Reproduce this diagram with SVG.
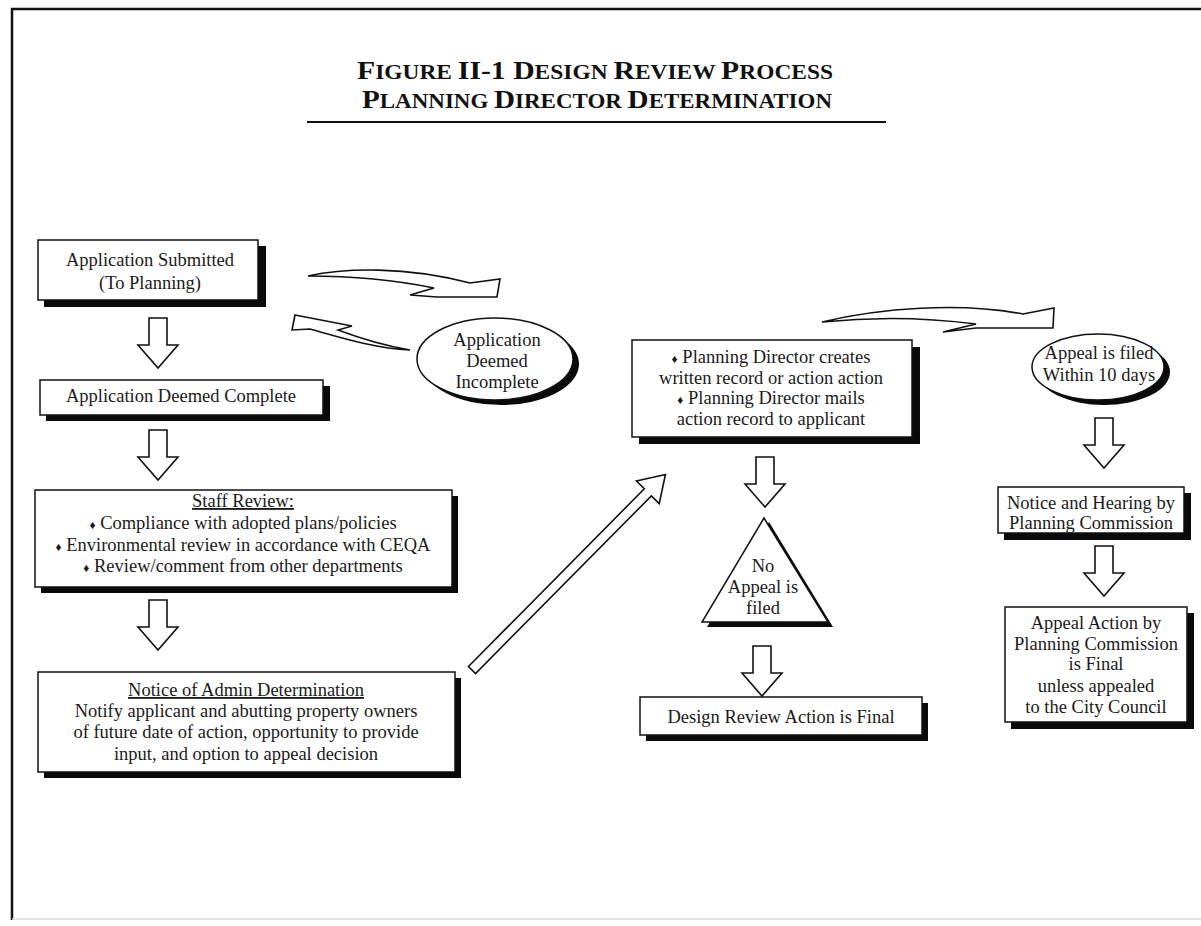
<svg xmlns="http://www.w3.org/2000/svg" width="1201" height="926" viewBox="0 0 1201 926">
<defs>
<style>
.t{font-family:"Liberation Serif","Times New Roman",serif;font-size:18.5px;fill:#1a1a1a;text-anchor:middle}
.box{fill:#fff;stroke:#111;stroke-width:1.5}
.sh{fill:#0a0a0a}
.arr{fill:#fff;stroke:#111;stroke-width:1.6;stroke-linejoin:miter}
.ttl{font-family:"Liberation Serif","Times New Roman",serif;font-weight:bold;fill:#111;text-anchor:middle}
.dm{font-size:12px}
</style>
<path id="down" d="M-9,0 H9 V27 H20 L0,50 L-20,27 H-9 Z"/>
</defs>
<rect width="1201" height="926" fill="#fff"/>
<path d="M1201,9 H12 V920" fill="none" stroke="#111" stroke-width="2.5"/>
<line x1="12" y1="919" x2="1201" y2="919" stroke="#ddd" stroke-width="1.5"/>

<g id="title">
<text class="ttl" x="595" y="79" textLength="476" lengthAdjust="spacingAndGlyphs"><tspan font-size="26">F</tspan><tspan font-size="20.5">IGURE </tspan><tspan font-size="26">II-1 D</tspan><tspan font-size="20.5">ESIGN </tspan><tspan font-size="26">R</tspan><tspan font-size="20.5">EVIEW </tspan><tspan font-size="26">P</tspan><tspan font-size="20.5">ROCESS</tspan></text>
<text class="ttl" x="597" y="108" textLength="470" lengthAdjust="spacingAndGlyphs"><tspan font-size="26">P</tspan><tspan font-size="20.5">LANNING </tspan><tspan font-size="26">D</tspan><tspan font-size="20.5">IRECTOR </tspan><tspan font-size="26">D</tspan><tspan font-size="20.5">ETERMINATION</tspan></text>
<line x1="307" y1="122" x2="886" y2="122" stroke="#111" stroke-width="2"/>
</g>

<g id="connectors">
<use href="#down" class="arr" x="158" y="318"/>
<use href="#down" class="arr" x="158" y="430"/>
<use href="#down" class="arr" x="158" y="600"/>
<use href="#down" class="arr" x="765" y="457"/>
<use href="#down" class="arr" x="762" y="646"/>
<use href="#down" class="arr" x="1104" y="418"/>
<use href="#down" class="arr" x="1104" y="546"/>
<g transform="translate(472,670) rotate(-45.3)">
<polygon class="arr" points="0,-5 250,-5 250,-16 275,0 250,16 250,5 0,5"/>
</g>
<path class="arr" d="M308,276 C345,268 405,266 470,283 L500,279 L497,297 L437,297 L410,295 L434,288 C400,281 360,276 308,276 Z"/>
<path class="arr" d="M295,315 L352,326 L338,330 C362,339 386,346 410,350 C372,348 336,336 310,329 L292,330 Z"/>
<path class="arr" d="M822,322 C880,308 960,302 1023,314 L1054,308 L1053,328 L976,328 L943,332 L976,324 C930,318 880,316 822,322 Z"/>
</g>

<g id="n-submitted">
<rect class="sh" x="44" y="246" width="222" height="61"/>
<rect class="box" x="38" y="240" width="220" height="60"/>
<text class="t" x="150" y="266">Application Submitted</text>
<text class="t" x="150" y="289">(To Planning)</text>
</g>

<g id="n-complete">
<rect class="sh" x="46" y="386" width="284" height="35"/>
<rect class="box" x="40" y="380" width="283" height="35"/>
<text class="t" x="181" y="402">Application Deemed Complete</text>
</g>

<g id="n-incomplete">
<ellipse class="sh" cx="501" cy="364" rx="78" ry="41"/>
<ellipse class="box" cx="495" cy="359" rx="78" ry="41"/>
<text class="t" x="497" y="346">Application</text>
<text class="t" x="497" y="367">Deemed</text>
<text class="t" x="497" y="388">Incomplete</text>
</g>

<g id="n-staff">
<rect class="sh" x="41" y="496" width="417" height="97"/>
<rect class="box" x="35" y="490" width="417" height="97"/>
<text class="t" x="243" y="507" text-decoration="underline">Staff Review:</text>
<text class="t" x="243" y="529"><tspan class="dm">♦</tspan> Compliance with adopted plans/policies</text>
<text class="t" x="243" y="551"><tspan class="dm">♦</tspan> Environmental review in accordance with CEQA</text>
<text class="t" x="243" y="572"><tspan class="dm">♦</tspan> Review/comment from other departments</text>
</g>

<g id="n-notice">
<rect class="sh" x="44" y="678" width="417" height="100"/>
<rect class="box" x="38" y="672" width="417" height="100"/>
<text class="t" x="246" y="696" text-decoration="underline">Notice of Admin Determination</text>
<text class="t" x="246" y="717">Notify applicant and abutting property owners</text>
<text class="t" x="246" y="738">of future date of action, opportunity to provide</text>
<text class="t" x="246" y="760">input, and option to appeal decision</text>
</g>

<g id="n-director">
<rect class="sh" x="639" y="347" width="281" height="97"/>
<rect class="box" x="632" y="340" width="280" height="97"/>
<text class="t" x="771" y="363"><tspan class="dm">♦</tspan> Planning Director creates</text>
<text class="t" x="771" y="384">written record or action action</text>
<text class="t" x="771" y="404"><tspan class="dm">♦</tspan> Planning Director mails</text>
<text class="t" x="771" y="425">action record to applicant</text>
</g>

<g id="n-noappeal">
<polygon class="sh" points="769,522 833,627 707,627"/>
<polygon class="box" points="764,518 828,622 702,622"/>
<text class="t" x="763" y="572">No</text>
<text class="t" x="763" y="593">Appeal is</text>
<text class="t" x="763" y="614">filed</text>
</g>

<g id="n-final">
<rect class="sh" x="646" y="703" width="282" height="38"/>
<rect class="box" x="640" y="697" width="282" height="38"/>
<text class="t" x="781" y="723">Design Review Action is Final</text>
</g>

<g id="n-appeal">
<ellipse class="sh" cx="1104" cy="372" rx="66" ry="33"/>
<ellipse class="box" cx="1098" cy="367" rx="66" ry="33"/>
<text class="t" x="1099" y="359">Appeal is filed</text>
<text class="t" x="1099" y="381">Within 10 days</text>
</g>

<g id="n-hearing">
<rect class="sh" x="1004" y="493" width="187" height="47"/>
<rect class="box" x="998" y="487" width="186" height="46"/>
<text class="t" x="1091" y="509">Notice and Hearing by</text>
<text class="t" x="1091" y="529">Planning Commission</text>
</g>

<g id="n-appealaction">
<rect class="sh" x="1011" y="613" width="183" height="116"/>
<rect class="box" x="1005" y="607" width="182" height="115"/>
<text class="t" x="1096" y="629">Appeal Action by</text>
<text class="t" x="1096" y="650">Planning Commission</text>
<text class="t" x="1096" y="670">is Final</text>
<text class="t" x="1096" y="692">unless appealed</text>
<text class="t" x="1096" y="713">to the City Council</text>
</g>
</svg>
